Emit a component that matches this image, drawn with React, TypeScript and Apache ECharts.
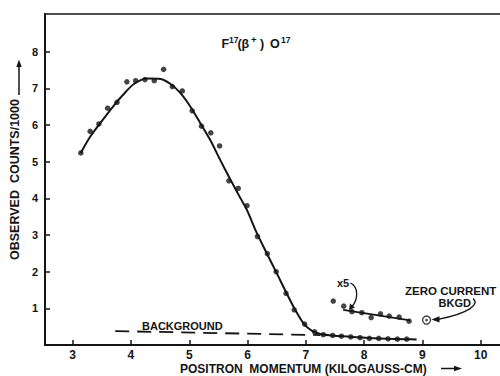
import React, { useEffect, useRef } from "react";
import * as echarts from "echarts";

// Tick values
const xTicks = [3, 4, 5, 6, 7, 8, 9, 10];
const yTicks = [1, 2, 3, 4, 5, 6, 7, 8];

// Observed counts (thousands) vs positron momentum (kilogauss-cm)
const countX = [3.14, 3.3, 3.45, 3.6, 3.76, 3.93, 4.08, 4.24, 4.4, 4.56, 4.71, 4.88, 5.05, 5.21, 5.37, 5.52, 5.68, 5.84, 5.99, 6.17, 6.34, 6.49, 6.66, 6.8, 6.98, 7.15, 7.3, 7.46, 7.61, 7.77, 7.93, 8.09, 8.25, 8.41, 8.57, 8.73];
const countY = [5.24, 5.83, 6.03, 6.46, 6.62, 7.18, 7.21, 7.24, 7.21, 7.52, 7.05, 6.93, 6.39, 5.97, 5.79, 5.43, 4.48, 4.27, 3.8, 2.96, 2.49, 2.0, 1.41, 0.96, 0.57, 0.36, 0.28, 0.26, 0.24, 0.22, 0.2, 0.18, 0.18, 0.17, 0.16, 0.16];

// Fitted curve drawn through the data
const fitX = [3.14, 3.3, 3.5, 3.7, 3.85, 4.05, 4.28, 4.51, 4.68, 4.85, 5.02, 5.19, 5.36, 5.53, 5.71, 5.88, 5.99, 6.16, 6.33, 6.5, 6.67, 6.82, 6.96, 7.1, 7.25, 7.5, 7.8, 8.1, 8.4, 8.7, 8.9];
const fitY = [5.24, 5.68, 6.11, 6.52, 6.8, 7.12, 7.27, 7.26, 7.12, 6.87, 6.5, 6.05, 5.59, 5.05, 4.5, 4.0, 3.68, 3.05, 2.5, 1.96, 1.41, 0.95, 0.59, 0.39, 0.3, 0.25, 0.22, 0.19, 0.17, 0.16, 0.15];

// Tail multiplied by 5
const x5X = [7.47, 7.65, 7.79, 7.96, 8.12, 8.28, 8.43, 8.6, 8.77];
const x5Y = [1.2, 1.06, 0.91, 0.88, 0.75, 0.85, 0.79, 0.76, 0.65];
const x5LineX = [7.64, 8.79];
const x5LineY = [0.96, 0.67];

// Background (dashed)
const bkgX = [3.73, 7.25];
const bkgY = [0.38, 0.27];

// Zero current background
const zeroX = [9.07];
const zeroY = [0.68];

const ink = "#151515";
const FONT = "'Liberation Sans', 'DejaVu Sans', sans-serif";

const zip = (xs: number[], ys: number[]) => xs.map((x, i) => [x, ys[i]]);

function txt(x: number, y: number, text: string, size: number, align = "left") {
  return {
    type: "text",
    x,
    y,
    silent: true,
    style: {
      text,
      fill: ink,
      fontSize: size,
      fontWeight: "bold",
      fontFamily: FONT,
      align,
      verticalAlign: "middle",
      lineHeight: Math.round(size * 0.85),
    },
  };
}

export default function App() {
  const ref = useRef<HTMLDivElement>(null);
  useEffect(() => {
    if (!ref.current) return;
    const chart = echarts.init(ref.current, null, { renderer: "svg" });
    const option: any = {
      animation: false,
      backgroundColor: "#ffffff",
      grid: { left: 44, right: 0, top: 14, bottom: 31 },
      xAxis: {
        type: "value",
        min: 2.526,
        max: 10.33,
        splitLine: { show: false },
        axisLine: { show: true, lineStyle: { color: ink, width: 2 } },
        axisTick: { show: true, inside: true, length: 5, customValues: xTicks, lineStyle: { color: ink, width: 1.5 } },
        axisLabel: {
          customValues: xTicks,
          margin: 5,
          color: ink,
          fontSize: 12,
          lineHeight: 10,
          fontWeight: "bold",
          fontFamily: FONT,
        },
      },
      yAxis: {
        type: "value",
        min: 0,
        max: 9.03,
        splitLine: { show: false },
        axisLine: { show: true, onZero: false, lineStyle: { color: ink, width: 2 } },
        axisTick: { show: true, inside: true, length: 5, customValues: yTicks, lineStyle: { color: ink, width: 1.5 } },
        axisLabel: {
          customValues: yTicks,
          margin: 7,
          color: ink,
          fontSize: 11,
          fontWeight: "bold",
          fontFamily: FONT,
        },
        name: "OBSERVED  COUNTS/1000",
        nameLocation: "middle",
        nameRotate: 90,
        nameGap: 13,
        nameTextStyle: { color: ink, fontSize: 12.5, fontWeight: "bold", fontFamily: FONT },
      },
      series: [
        {
          type: "line",
          data: zip(fitX, fitY),
          smooth: 0.3,
          showSymbol: false,
          symbol: "none",
          silent: true,
          lineStyle: { color: ink, width: 2 },
          z: 2,
        },
        {
          type: "line",
          data: zip(bkgX, bkgY),
          showSymbol: false,
          symbol: "none",
          silent: true,
          lineStyle: { color: ink, width: 1.8, type: [14, 8] },
          z: 1,
        },
        {
          type: "line",
          data: zip(x5LineX, x5LineY),
          showSymbol: false,
          symbol: "none",
          silent: true,
          lineStyle: { color: ink, width: 1.8 },
          z: 2,
        },
        {
          type: "scatter",
          data: zip(countX, countY),
          symbol: "circle",
          symbolSize: 5.5,
          silent: true,
          itemStyle: { color: ink },
          z: 3,
        },
        {
          type: "scatter",
          data: zip(x5X, x5Y),
          symbol: "circle",
          symbolSize: 5.5,
          silent: true,
          itemStyle: { color: ink },
          z: 3,
        },
        {
          type: "scatter",
          data: zip(zeroX, zeroY),
          symbol: "circle",
          symbolSize: 8,
          silent: true,
          itemStyle: { color: "#ffffff", borderColor: ink, borderWidth: 1.4 },
          z: 3,
        },
        {
          type: "scatter",
          data: zip(zeroX, zeroY),
          symbol: "circle",
          symbolSize: 2.6,
          silent: true,
          itemStyle: { color: ink },
          z: 4,
        },
      ],
      graphic: [
        // top frame
        { type: "line", silent: true, shape: { x1: 44, y1: 14, x2: 500, y2: 14 }, style: { stroke: ink, lineWidth: 1.5 } },
        // title F17(β+)O17
        txt(221.5, 43.5, "F", 12.5),
        txt(229, 39.5, "17", 8.5),
        txt(237.5, 43.5, "(", 12.5),
        txt(241.5, 43.5, "β", 12.5),
        txt(251, 39.5, "+", 9.5),
        txt(260, 43.5, ")", 12.5),
        txt(270, 43.5, "O", 12.5),
        txt(281, 39.5, "17", 8.5),
        // annotations
        txt(142, 326, "BACKGROUND", 11),
        txt(337, 282.5, "x5", 11),
        txt(405, 290.5, "ZERO CURRENT", 11.5),
        txt(438.5, 303, "BKGD", 11),
        // x5 arrow
        {
          type: "bezierCurve",
          silent: true,
          shape: { x1: 350.5, y1: 283, cpx1: 359, cpy1: 287, cpx2: 358, cpy2: 300, x2: 352, y2: 306.5 },
          style: { stroke: ink, lineWidth: 1.3, fill: "none" },
        },
        { type: "polygon", silent: true, shape: { points: [[349, 310], [350, 303.5], [355, 307.5]] }, style: { fill: ink } },
        // zero-current arrow
        {
          type: "bezierCurve",
          silent: true,
          shape: { x1: 473, y1: 298.5, cpx1: 480, cpy1: 304, cpx2: 470, cpy2: 313, x2: 438, y2: 319.3 },
          style: { stroke: ink, lineWidth: 1.3, fill: "none" },
        },
        { type: "polygon", silent: true, shape: { points: [[431.5, 319.5], [439.5, 316.3], [439.5, 322.5]] }, style: { fill: ink } },
        // x-axis name and arrow
        txt(180, 369, "POSITRON  MOMENTUM (KILOGAUSS-CM)", 12),
        { type: "line", silent: true, shape: { x1: 441, y1: 368.5, x2: 456, y2: 368.5 }, style: { stroke: ink, lineWidth: 1.5 } },
        { type: "polygon", silent: true, shape: { points: [[462, 368.5], [454, 365.8], [454, 371.2]] }, style: { fill: ink } },
        // y-axis name arrow
        { type: "line", silent: true, shape: { x1: 19, y1: 95, x2: 19, y2: 65 }, style: { stroke: ink, lineWidth: 1.5 } },
        { type: "polygon", silent: true, shape: { points: [[19, 59.5], [16.3, 67], [21.7, 67]] }, style: { fill: ink } },
      ],
    };
    chart.setOption(option);
    return () => chart.dispose();
  }, []);
  return (
    <div
      ref={ref}
      style={{ position: "fixed", left: 0, top: 0, width: 500, height: 376, background: "#fff" }}
    />
  );
}
